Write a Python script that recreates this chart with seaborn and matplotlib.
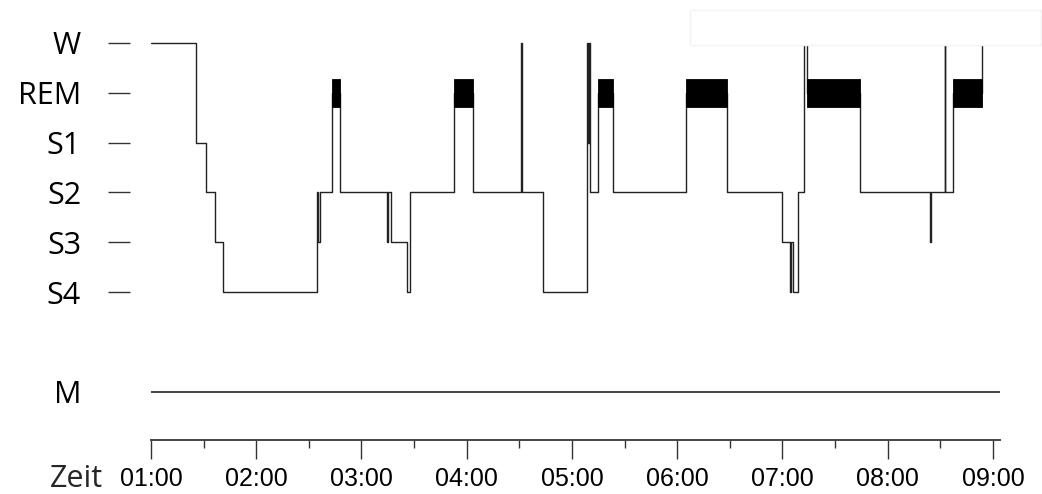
import matplotlib
matplotlib.use("Agg")
import matplotlib.pyplot as plt
from matplotlib.patches import Rectangle
from matplotlib import font_manager
import seaborn as sns
import numpy as np
import pandas as pd

# ---- data ----
stage_labels = ["W", "REM", "S1", "S2", "S3", "S4", "M"]
stage_levels = [6, 5, 4, 3, 2, 1, -1]
level_of = dict(zip(stage_labels, stage_levels))

# change points: minutes after 01:00, new stage
change_minutes = [0, 25.5, 31.5, 36.5, 41.0, 94.5, 95.0, 96.5, 103.0, 107.5,
                  134.5, 135.0, 137.0, 146.0, 147.5, 172.5, 183.5, 211.0, 211.3,
                  223.5, 248.5, 249.0, 249.5, 250.5, 255.0, 263.5, 305.0, 328.5,
                  359.5, 364.5, 365.0, 366.0, 369.0, 372.0, 374.0, 404.0, 444.0,
                  444.4, 452.5, 452.9, 457.0, 473.5]
change_stages = ["W", "S1", "S2", "S3", "S4", "S2", "S3", "S2", "REM", "S2",
                 "S3", "S2", "S3", "S4", "S2", "REM", "S2", "W", "S2",
                 "S4", "W", "S1", "W", "S2", "REM", "S2", "REM", "S2",
                 "S3", "S4", "S3", "S4", "S2", "W", "REM", "S2", "S3",
                 "S2", "W", "S2", "REM", "W"]
movement_level = "M"

hour_labels = ["01:00", "02:00", "03:00", "04:00", "05:00", "06:00", "07:00", "08:00", "09:00"]

# ---- figure ----
sns.set_theme(style="white")
plt.rcParams["font.family"] = ["Open Sans", "DejaVu Sans"]

available = {f.name for f in font_manager.fontManager.ttflist}
if "Liberation Sans Narrow" in available:
    time_font, time_size = "Liberation Sans Narrow", 21
else:
    time_font, time_size = "Liberation Sans", 18

fig = plt.figure(figsize=(10.42, 4.94), dpi=100)
ax = fig.add_axes([151 / 1042, 1 - 440 / 494, 849 / 1042, 426.9 / 494])

df = pd.DataFrame({"t": change_minutes,
                   "lvl": [level_of[s] for s in change_stages]})
sns.lineplot(data=df, x="t", y="lvl", drawstyle="steps-post", estimator=None,
             sort=False, color="#222222", linewidth=1.0, ax=ax)

# REM epochs as black bars
t = np.array(change_minutes)
durs = np.diff(np.append(t, t[-1]))
for start, dur, st in zip(t, durs, change_stages):
    if st == "REM":
        ax.bar(start, 0.56, width=dur, bottom=level_of["REM"] - 0.28,
               align="edge", color="black", edgecolor="black", linewidth=0.6, zorder=3)

# movement line
ax.axhline(level_of[movement_level], color="#222222", linewidth=1.2)

ax.set_xlim(0, 484)
ax.set_ylim(-1.97, 6.6)

# y axis
ax.set_yticks(stage_levels)
ax.set_yticklabels(stage_labels)
ax.spines["left"].set_position(("outward", 15.1))
ax.spines["left"].set_visible(False)
ax.tick_params(axis="y", which="major", direction="out", length=15.8, width=1.0,
               color="#333333", pad=19.4, left=True, labelsize=22, labelcolor="black")
ax.yaxis.get_major_ticks()[-1].tick1line.set_visible(False)

# x axis
ax.set_xticks(np.arange(0, 481, 60))
ax.set_xticks(np.arange(30, 481, 60), minor=True)
ax.set_xticklabels(hour_labels)
ax.tick_params(axis="x", which="major", direction="out", length=13.7, width=1.0,
               color="#333333", pad=6.0, bottom=True, labelsize=time_size, labelcolor="black")
ax.tick_params(axis="x", which="minor", direction="out", length=5.8, width=1.0,
               color="#333333", bottom=True)
for lab in ax.get_xticklabels():
    lab.set_family([time_font, "DejaVu Sans"])
for s in ["top", "right"]:
    ax.spines[s].set_visible(False)
ax.spines["bottom"].set_color("#444444")
ax.spines["bottom"].set_linewidth(1.4)
ax.set_xlabel("")
ax.set_ylabel("")

# "Zeit" label aligned with y tick labels
trans, _, _ = ax.get_yaxis_text1_transform(19.4)
ax.text(0, -2.76, "Zeit", transform=trans, ha="right", va="center",
        fontsize=22, clip_on=False)

# faint empty legend frame
fig.patches.append(Rectangle((690 / 1042, 1 - 45 / 494), 351 / 1042, 35 / 494,
                             transform=fig.transFigure, facecolor="white",
                             edgecolor="#f2f2f2", linewidth=1.0, zorder=10))

fig.savefig("out.png", dpi=100)
